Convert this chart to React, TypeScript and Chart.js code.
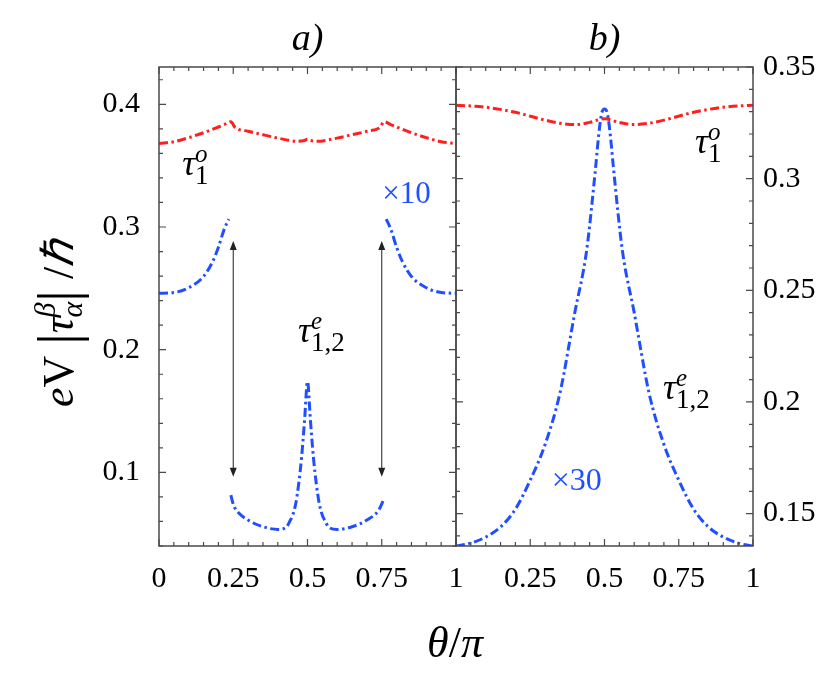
import { useEffect, useRef } from 'react';
import { Chart, registerables } from 'chart.js';

Chart.register(...registerables);

// ---- data ----
// panel a): odd torque (red) and even torque x10 (blue, broken at the gap edges)
const thetaOddA = [0, 0.05, 0.1, 0.16, 0.2, 0.22, 0.242, 0.256, 0.3, 0.35, 0.39, 0.43, 0.465, 0.49, 0.5, 0.51, 0.535, 0.57, 0.61, 0.65, 0.7, 0.744, 0.758, 0.78, 0.8, 0.84, 0.9, 0.95, 1];
const tauOddA = [0.368, 0.3695, 0.3728, 0.3777, 0.3815, 0.3835, 0.3858, 0.3812, 0.378, 0.3752, 0.373, 0.371, 0.3698, 0.3705, 0.3715, 0.3705, 0.3698, 0.371, 0.373, 0.3752, 0.378, 0.3812, 0.3858, 0.3835, 0.3815, 0.3777, 0.3728, 0.3695, 0.368];

const thetaEvenA = [0, 0.05, 0.1, 0.15, 0.18, 0.2, 0.22, 0.235, 0.238, 0.242, 0.25, 0.26, 0.3, 0.35, 0.4, 0.43, 0.44, 0.45, 0.46, 0.47, 0.48, 0.49, 0.5, 0.51, 0.52, 0.53, 0.54, 0.55, 0.56, 0.57, 0.6, 0.65, 0.7, 0.74, 0.757, 0.761, 0.765, 0.78, 0.8, 0.82, 0.85, 0.9, 0.95, 1];
const tauEvenA = [0.246, 0.2466, 0.2505, 0.2597, 0.2715, 0.2835, 0.2985, 0.3065, null, 0.0815, 0.074, 0.0693, 0.0611, 0.0557, 0.0535, 0.0557, 0.06, 0.065, 0.074, 0.09, 0.112, 0.142, 0.174, 0.142, 0.112, 0.09, 0.074, 0.065, 0.06, 0.0557, 0.0535, 0.0557, 0.0611, 0.0693, 0.078, null, 0.3065, 0.2985, 0.2835, 0.2715, 0.2597, 0.2505, 0.2466, 0.246];

// panel b): odd torque (red) and even torque x30 (blue)
const thetaOddB = [0, 0.1, 0.2, 0.3, 0.35, 0.4, 0.45, 0.5, 0.55, 0.6, 0.65, 0.7, 0.8, 0.9, 1];
const tauOddB = [0.3329, 0.332, 0.3297, 0.3262, 0.3248, 0.3242, 0.3252, 0.3268, 0.3252, 0.3242, 0.3248, 0.3262, 0.3297, 0.332, 0.3329];

const thetaEvenB = [0, 0.05, 0.1, 0.15, 0.2, 0.25, 0.3, 0.35, 0.4, 0.44, 0.47, 0.48, 0.49, 0.5, 0.51, 0.52, 0.53, 0.56, 0.6, 0.65, 0.7, 0.75, 0.8, 0.85, 0.9, 0.95, 1];
const tauEvenB = [0.1355, 0.1368, 0.1395, 0.144, 0.152, 0.165, 0.181, 0.204, 0.24, 0.268, 0.305, 0.319, 0.329, 0.3312, 0.329, 0.319, 0.305, 0.268, 0.24, 0.204, 0.181, 0.165, 0.152, 0.144, 0.1395, 0.1368, 0.1355];

// axis ticks
const xTicksA = [0, 0.25, 0.5, 0.75, 1];
const xTicksB = [0.25, 0.5, 0.75, 1];
const yTicksA = [0.1, 0.2, 0.3, 0.4];
const yTicksB = [0.15, 0.2, 0.25, 0.3, 0.35];

// double arrows in panel a)
const arrowTheta = [0.25, 0.75];
const arrowTop = 0.2885;
const arrowBottom = 0.0965;

const RED = '#ff1f1f';
const BLUE = '#1f4fff';
const FRAME = '#4a4a4a';
const SERIF = '"Liberation Serif"';

interface Piece { text: string; size: number; italic?: boolean; rise?: number; stack?: boolean }
interface Label { x: number; y: number; pieces: Piece[]; color: string }

const tau = (sub: string, sup: string): Piece[] => [
    { text: 'τ', size: 36, italic: true },
    { text: sub, size: 27, rise: -9 },
    { text: sup, size: 25, italic: true, rise: 13, stack: true },
];

const labelsA: Label[] = [
    { x: 0.078, y: 0.342, pieces: tau('1', 'o'), color: '#000' },
    { x: 0.752, y: 0.3196, pieces: [{ text: '×10', size: 31 }], color: BLUE },
    { x: 0.468, y: 0.2063, pieces: tau('1,2', 'e'), color: '#000' },
];
const labelsB: Label[] = [
    { x: 0.805, y: 0.3115, pieces: tau('1', 'o'), color: '#000' },
    { x: 0.697, y: 0.2015, pieces: tau('1,2', 'e'), color: '#000' },
    { x: 0.322, y: 0.1605, pieces: [{ text: '×30', size: 32 }], color: BLUE },
];

const fontOf = (p: Piece) => `${p.italic ? 'italic ' : ''}${p.size}px ${SERIF}`;

// draws a run of pieces with (x, y) on the baseline; stacked pieces share the previous start
function drawPieces(ctx: CanvasRenderingContext2D, pieces: Piece[], x: number, y: number, align: 'left' | 'center') {
    const placed: { p: Piece; start: number }[] = [];
    let cur = 0;
    let prevStart = 0;
    for (const p of pieces) {
        ctx.font = fontOf(p);
        const w = ctx.measureText(p.text).width;
        const start = p.stack ? prevStart : cur;
        placed.push({ p, start });
        prevStart = start;
        cur = p.stack ? Math.max(cur, start + w) : start + w;
    }
    const x0 = align === 'center' ? x - cur / 2 : x;
    ctx.textBaseline = 'alphabetic';
    ctx.textAlign = 'left';
    for (const { p, start } of placed) {
        ctx.font = fontOf(p);
        ctx.fillText(p.text, x0 + start, y - (p.rise ?? 0));
    }
}

interface PanelCfg {
    title: string;
    xMinorStep: number;
    xMajorStep: number;
    yMinorStep: number;
    yMajorStep: number;
    labels: Label[];
    arrows: boolean;
    axisTitles: boolean;
}

function panelPlugin(cfg: PanelCfg) {
    return {
        id: 'panelDecor',
        afterDraw(chart: Chart) {
            const { ctx, chartArea: a } = chart;
            const xs = chart.scales.x;
            const ys = chart.scales.y;
            ctx.save();

            // inward ticks on all four sides
            ctx.strokeStyle = FRAME;
            ctx.lineWidth = 1.2;
            ctx.beginPath();
            const eps = 1e-9;
            for (let v = xs.min; v <= xs.max + eps; v += cfg.xMinorStep) {
                const major = Math.abs(v / cfg.xMajorStep - Math.round(v / cfg.xMajorStep)) < 1e-6;
                const len = major ? 7 : 4;
                const px = xs.getPixelForValue(v);
                ctx.moveTo(px, a.bottom); ctx.lineTo(px, a.bottom - len);
                ctx.moveTo(px, a.top); ctx.lineTo(px, a.top + len);
            }
            const yStart = Math.ceil(ys.min / cfg.yMinorStep - eps) * cfg.yMinorStep;
            for (let v = yStart; v <= ys.max + eps; v += cfg.yMinorStep) {
                const major = Math.abs(v / cfg.yMajorStep - Math.round(v / cfg.yMajorStep)) < 1e-6;
                const len = major ? 7 : 4;
                const py = ys.getPixelForValue(v);
                ctx.moveTo(a.left, py); ctx.lineTo(a.left + len, py);
                ctx.moveTo(a.right, py); ctx.lineTo(a.right - len, py);
            }
            ctx.stroke();

            // frame
            ctx.lineWidth = 1.5;
            ctx.strokeRect(a.left, a.top, a.right - a.left, a.bottom - a.top);

            // double arrows
            if (cfg.arrows) {
                ctx.strokeStyle = '#333';
                ctx.fillStyle = '#222';
                ctx.lineWidth = 1.1;
                for (const t of arrowTheta) {
                    const px = xs.getPixelForValue(t);
                    const pTop = ys.getPixelForValue(arrowTop);
                    const pBot = ys.getPixelForValue(arrowBottom);
                    ctx.beginPath();
                    ctx.moveTo(px, pTop + 6); ctx.lineTo(px, pBot - 6);
                    ctx.stroke();
                    ctx.beginPath();
                    ctx.moveTo(px, pTop); ctx.lineTo(px - 3.5, pTop + 9); ctx.lineTo(px + 3.5, pTop + 9); ctx.closePath();
                    ctx.moveTo(px, pBot); ctx.lineTo(px - 3.5, pBot - 9); ctx.lineTo(px + 3.5, pBot - 9); ctx.closePath();
                    ctx.fill();
                }
            }

            // in-plot labels
            for (const l of cfg.labels) {
                ctx.fillStyle = l.color;
                drawPieces(ctx, l.pieces, xs.getPixelForValue(l.x), ys.getPixelForValue(l.y), 'left');
            }

            // panel title
            ctx.fillStyle = '#000';
            drawPieces(ctx, [{ text: cfg.title, size: 38, italic: true }], (a.left + a.right) / 2, a.top - 17, 'center');

            if (cfg.axisTitles) {
                // x title, centred under the join of the two panels
                drawPieces(ctx, [
                    { text: 'θ', size: 44, italic: true },
                    { text: '/', size: 44 },
                    { text: 'π', size: 44, italic: true },
                ], a.right - 1, a.bottom + 111, 'center');

                // y title, rotated
                ctx.save();
                ctx.translate(a.left - 86, (a.top + a.bottom) / 2 + 17);
                ctx.rotate(-Math.PI / 2);
                drawPieces(ctx, [
                    { text: 'e', size: 44, italic: true },
                    { text: 'V ', size: 44 },
                    { text: '|', size: 58, rise: -4 },
                    { text: 'τ', size: 44, italic: true },
                    { text: 'α', size: 30, italic: true, rise: -9 },
                    { text: 'β', size: 30, italic: true, rise: 18, stack: true },
                    { text: '|', size: 58, rise: -4 },
                    { text: ' /', size: 44 },
                    { text: 'ℏ', size: 44, italic: true },
                ], 0, 0, 'center');
                ctx.restore();
            }
            ctx.restore();
        },
    };
}

const pts = (xs: number[], ys: (number | null)[]) => xs.map((x, i) => ({ x, y: ys[i] }));

const lineStyle = (color: string) => ({
    borderColor: color,
    borderWidth: 3,
    borderDash: [9, 3.5, 2.5, 3.5],
    pointRadius: 0,
    fill: false,
    spanGaps: false,
    cubicInterpolationMode: 'monotone' as const,
});

const tickFont = { family: SERIF, size: 30 };

function PanelChart({ which }: { which: 'a' | 'b' }) {
    const canvasRef = useRef<HTMLCanvasElement>(null);

    useEffect(() => {
        if (!canvasRef.current) return;
        const isA = which === 'a';
        const xTicks = isA ? xTicksA : xTicksB;
        const yTicks = isA ? yTicksA : yTicksB;

        const chart = new Chart(canvasRef.current, {
            type: 'line',
            data: {
                datasets: isA
                    ? [
                        { label: 'even', data: pts(thetaEvenA, tauEvenA), ...lineStyle(BLUE) },
                        { label: 'odd', data: pts(thetaOddA, tauOddA), ...lineStyle(RED) },
                    ]
                    : [
                        { label: 'even', data: pts(thetaEvenB, tauEvenB), ...lineStyle(BLUE) },
                        { label: 'odd', data: pts(thetaOddB, tauOddB), ...lineStyle(RED) },
                    ],
            },
            options: {
                responsive: false,
                animation: false,
                layout: {
                    padding: isA
                        ? { left: 0, top: 67, right: 375, bottom: 0 }
                        : { left: 456, top: 67, right: 0, bottom: 0 },
                },
                plugins: { legend: { display: false }, tooltip: { enabled: false } },
                events: [],
                scales: {
                    x: {
                        type: 'linear',
                        min: 0,
                        max: 1,
                        grid: { display: false, drawTicks: false },
                        border: { display: false },
                        ticks: {
                            color: '#000',
                            font: tickFont,
                            padding: 15,
                            maxRotation: 0,
                            callback: (v) => String(v),
                        },
                        afterBuildTicks: (s) => { s.ticks = xTicks.map((value) => ({ value })); },
                        afterFit: (s) => { s.height = 133; s.paddingLeft = 0; s.paddingRight = 0; },
                    },
                    y: {
                        type: 'linear',
                        position: isA ? 'left' : 'right',
                        min: isA ? 0.04 : 0.1355,
                        max: isA ? 0.4304 : 0.35,
                        grid: { display: false, drawTicks: false },
                        border: { display: false },
                        ticks: {
                            color: '#000',
                            font: tickFont,
                            padding: isA ? 19 : 10,
                            callback: (v) => String(v),
                        },
                        afterBuildTicks: (s) => { s.ticks = yTicks.map((value) => ({ value })); },
                        afterFit: (s) => {
                            s.width = isA ? 159 : 78;
                            s.paddingTop = 0;
                            s.paddingBottom = 0;
                        },
                    },
                },
            },
            plugins: [
                panelPlugin({
                    title: isA ? 'a)' : 'b)',
                    xMinorStep: 0.05,
                    xMajorStep: 0.25,
                    yMinorStep: isA ? 0.02 : 0.01,
                    yMajorStep: isA ? 0.1 : 0.05,
                    labels: isA ? labelsA : labelsB,
                    arrows: isA,
                    axisTitles: isA,
                }),
            ],
        });

        return () => chart.destroy();
    }, [which]);

    return (
        <canvas
            ref={canvasRef}
            width={831}
            height={679}
            style={{ position: 'absolute', left: 0, top: 0, width: 831, height: 679 }}
        />
    );
}

export default function App() {
    return (
        <div style={{ position: 'absolute', left: 0, top: 0, width: 831, height: 679, background: '#fff' }}>
            <PanelChart which="a" />
            <PanelChart which="b" />
        </div>
    );
}
